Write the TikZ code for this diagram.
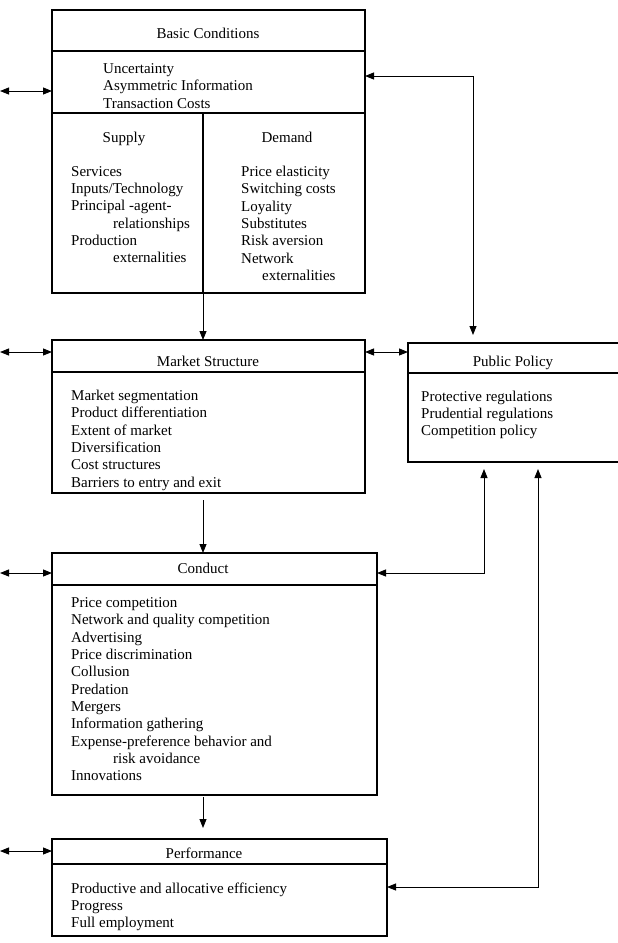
\documentclass[tikz,border=0pt]{standalone}
\usepackage{fontspec}
\setmainfont{Liberation Serif}
\usetikzlibrary{arrows.meta,calc}
\begin{document}
\begin{tikzpicture}[x=1pt,y=-1pt,
  boxn/.style={draw,line width=1.3pt,anchor=north west,inner sep=0pt,outer sep=0pt},
  rule/.style={line width=1.3pt},
  txt/.style={anchor=north west,align=left,inner sep=0pt,font=\fontsize{15}{17.3}\selectfont,execute at begin node=\strut},
  head/.style={anchor=base,inner sep=0pt,font=\fontsize{15}{17.3}\selectfont},
  conn/.style={line width=0.9pt},
  tip/.style={-{Triangle[length=9pt,width=7pt]}},
  tips/.style={{Triangle[length=9pt,width=7pt]}-{Triangle[length=9pt,width=7pt]}}]
\useasboundingbox (0,0) rectangle (618,943);
\clip (0,0) rectangle (618,943);

% Boxes
\node[boxn,minimum width=313pt,minimum height=283pt] (bc) at (52,10) {};
\node[boxn,minimum width=313pt,minimum height=153pt] (ms) at (52,340) {};
\node[boxn,minimum width=230pt,minimum height=119pt] (pp) at (408,343) {};
\node[boxn,minimum width=325pt,minimum height=242pt] (cd) at (52,553) {};
\node[boxn,minimum width=335pt,minimum height=97pt] (pf) at (52,839) {};

% Inner rules
\draw[rule] (bc.west |- 0,51) -- (bc.east |- 0,51);
\draw[rule] (bc.west |- 0,113) -- (bc.east |- 0,113);
\coordinate (dv) at (203,113);
\draw[rule] (dv) -- (dv |- bc.south);
\draw[rule] (ms.west |- 0,372) -- (ms.east |- 0,372);
\draw[rule] (pp.west |- 0,373) -- (pp.east |- 0,373);
\draw[rule] (cd.west |- 0,585) -- (cd.east |- 0,585);
\draw[rule] (pf.west |- 0,864) -- (pf.east |- 0,864);

% Texts
\node[head] (bch) at (208,38) {Basic Conditions};
\node[txt] (bct) at (103,63.5) {Uncertainty\\Asymmetric Information\\Transaction Costs};
\node[head] (suh) at (124,142) {Supply};
\node[head] (deh) at (287,142) {Demand};
\node[txt] (sut) at (71,166) {Services\\Inputs/Technology\\Principal -agent-\\\hspace*{42pt}relationships\\Production\\\hspace*{42pt}externalities};
\node[txt] (det) at (241,166) {Price elasticity\\Switching costs\\Loyality\\Substitutes\\Risk aversion\\Network\\\hspace*{21pt}externalities};

\node[head] (msh) at (208,366) {Market Structure};
\node[txt] (mst) at (71,390) {Market segmentation\\Product differentiation\\Extent of market\\Diversification\\Cost structures\\Barriers to entry and exit};

\node[head] (pph) at (513,366) {Public Policy};
\node[txt] (ppt) at (421,390.5) {Protective regulations\\Prudential regulations\\Competition policy};

\node[head] (cdh) at (203,573) {Conduct};
\node[txt] (cdt) at (71,597.5) {Price competition\\Network and quality competition\\Advertising\\Price discrimination\\Collusion\\Predation\\Mergers\\Information gathering\\Expense-preference behavior and\\\hspace*{42pt}risk avoidance\\Innovations};

\node[head] (pfh) at (204,858) {Performance};
\node[txt] (pft) at (71,882.5) {Productive and allocative efficiency\\Progress\\Full employment};

% Left connectors
\coordinate (l1) at (0,91);
\coordinate (l2) at (0,352);
\coordinate (l3) at (0,573);
\coordinate (l4) at (0,851);
\draw[conn,tips] (l1) -- (l1 -| bc.west);
\draw[conn,tips] (l2) -- (l2 -| ms.west);
\draw[conn,tips] (l3) -- (l3 -| cd.west);
\draw[conn,tips] (l4) -- (l4 -| pf.west);

% Vertical flow
\draw[conn,tip] (dv |- bc.south) -- (dv |- ms.north);
\draw[conn,tip] ($(dv |- ms.south)+(0,7)$) -- (dv |- cd.north);
\draw[conn,tip] ($(dv |- cd.south)+(0,2)$) -- ($(dv |- pf.north)+(0,-11)$);

% Public policy links
\coordinate (c1) at (473,76);
\draw[conn,tips] (c1 -| bc.east) -- (c1) -- ($(c1 |- pp.north)+(0,-8)$);
\coordinate (c2) at (0,352);
\draw[conn,tips] (c2 -| ms.east) -- (c2 -| pp.west);
\coordinate (c3) at (484,573);
\draw[conn,tips] ($(c3 |- pp.south)+(0,7)$) -- (c3) -- (c3 -| cd.east);
\coordinate (c4) at (538,887);
\draw[conn,tips] ($(c4 |- pp.south)+(0,7)$) -- (c4) -- (c4 -| pf.east);
\end{tikzpicture}
\end{document}
